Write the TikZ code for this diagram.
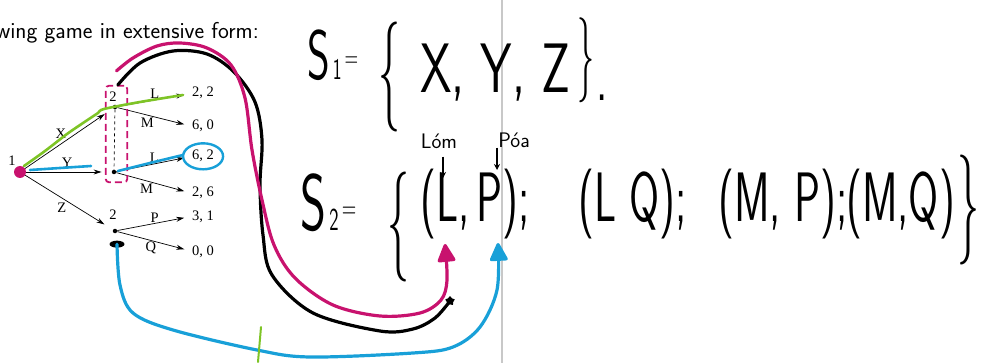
\documentclass[tikz,border=0pt]{standalone}
\usepackage{fontspec}
\usepackage{xcolor}
\usetikzlibrary{arrows.meta,positioning,shapes.geometric,fit}

\newfontfamily\treefont{Liberation Serif}
\definecolor{penmag}{RGB}{200,18,110}
\definecolor{penblue}{RGB}{24,160,216}
\definecolor{pengreen}{RGB}{126,196,38}
\definecolor{pagerule}{RGB}{200,200,200}

\begin{document}
\begin{tikzpicture}[x=1pt, y=-1pt,
  dec/.style={circle, fill=black, inner sep=0pt, minimum size=4.5pt},
  act/.style={font=\treefont\fontsize{14.5}{16}\selectfont, inner sep=1pt},
  pay/.style={act, anchor=base west, inner sep=0pt},
  move/.style={-{Stealth[length=8pt,width=5pt]}, line width=0.7pt},
  hand/.style={font=\fontsize{70}{70}\selectfont\sffamily, xscale=#1, transform shape, inner sep=0pt},
  hand/.default=0.62,
  handbrace/.style={font=\fontsize{110}{110}\selectfont\sffamily, xscale=0.4, transform shape, inner sep=0pt},
  note/.style={font=\fontsize{21}{21}\selectfont\sffamily, inner sep=0pt},
  pen/.style={line width=3.2pt, line cap=round, line join=round},
  penhead/.style={-{Triangle[length=20pt, width=19pt, round]}},
]
\useasboundingbox (0,0) rectangle (981,363);

% edge of the slide
\draw[pagerule, line width=1.3pt] (502,0) -- (502,363);

\node[anchor=base east, font=\fontsize{23}{26}\selectfont\sffamily, inner sep=0pt] (intro) at (259,39) {wing game in extensive form:};

% game tree
\node[dec] (root) at (20,172) {};
\node[act] (rootlbl) at (12,161) {1};
\node[dec] (tA) at (115,107) {};
\node[act] (tAlbl) at (113,97) {2};
\node[dec] (tB) at (114,172) {};
\node[dec] (tC) at (115,231) {};
\node[act] (tClbl) at (113,215) {2};

\node[pay] (uAL) at (192,97) {2, 2};
\node[pay] (uAM) at (192,130) {6, 0};
\node[pay] (uBL) at (192,160) {6, 2};
\node[pay] (uBM) at (192,197) {2, 6};
\node[pay] (uCP) at (192,220) {3, 1};
\node[pay] (uCQ) at (192,255) {0, 0};

\draw[move, shorten >=10pt] (root) -- node[act, above left] {X} (tA);
\draw[move, shorten >=10pt] (root) -- node[act, above=3pt] {Y} (tB);
\draw[move, shorten >=10pt] (root) -- node[act, below left] {Z} (tC);
\draw[move, shorten >=8pt] (tA) -- node[act, above] {L} (uAL.west);
\draw[move, shorten >=8pt] (tA) -- node[act, pos=0.4, below=2pt] {M} (uAM.west);
\draw[move, shorten >=8pt] (tB) -- node[act, above] {L} (uBL.west);
\draw[move, shorten >=8pt] (tB) -- node[act, pos=0.4, below=2pt] {M} (uBM.west);
\draw[move, shorten >=8pt] (tC) -- node[act, above] {P} (uCP.west);
\draw[move, shorten >=8pt] (tC) -- node[act, pos=0.45, below] {Q} (uCQ.west);
\draw[dashed, line width=0.7pt] (tA) -- (tB);

% pen marks on the tree
\node[draw=penmag, dashed, dash pattern=on 7pt off 4pt, line width=1.8pt, rounded corners=3pt,
  fit=(tA)(tB), inner xsep=7.75pt, inner ysep=13.25pt, xshift=2pt, yshift=5.5pt] (infobox) {};
\fill[penmag] (root) circle (6pt);
\draw[pen, pengreen, line width=2.6pt] plot[smooth, tension=0.5] coordinates {(24,166) (45,151) (67,134) (86,121) (98,113) (104,109) (140,102) (183,95)};
\draw[pen, penblue, line width=2.6pt] plot[smooth] coordinates {(30,170) (60,168) (91,166)};
\draw[pen, penblue, line width=2.6pt] plot[smooth] coordinates {(118,171) (150,163) (183,155)};
\node[draw=penblue, ellipse, line width=2.4pt, minimum width=40pt, minimum height=26pt, inner sep=0pt] (ring) at (uBL.center) {};
\node[ellipse, fill=black, minimum width=15pt, minimum height=7pt, inner sep=0pt, below=7pt of tC, xshift=2pt] (blob) {};

% handwritten sets
\node[hand, anchor=base west] (s1lhs) at (307,80) {S{\fontsize{30}{30}\selectfont\,1\,\raisebox{12pt}{=}}};
\node[handbrace] (s1open) at (389,77) {\{};
\node[hand=0.72, anchor=base west] (s1elts) at (420,93) {X, Y, Z};
\node[handbrace, font=\fontsize{85}{85}\selectfont\sffamily] (s1close) at (586,60) {\}};
\node[hand] (s1dot) at (602,98) {.};

\node[hand, anchor=base west, font=\fontsize{80}{80}\selectfont\sffamily] (s2lhs) at (300,230) {S{\fontsize{32}{32}\selectfont\,2\,\raisebox{12pt}{=}}};
\node[handbrace] (s2open) at (398,227) {\{};
\node[hand, anchor=base west] (s2a) at (420,222) {(L,\,P);};
\node[hand, anchor=base west] (s2b) at (578,222) {(L Q);};
\node[hand, anchor=base west] (s2c) at (718,222) {(M, P);};
\node[hand, anchor=base west] (s2d) at (846,222) {(M,Q)};
\node[handbrace] (s2close) at (968,210) {\}};

\node[note] (lom) at (439,141) {Lóm};
\node[note] (poa) at (514,140) {Póa};
\coordinate (Ltop) at (443,178);
\coordinate (Ptop) at (497,170);
\draw[line width=1.8pt, shorten <=8pt, -{Stealth[length=6pt,width=6pt]}] (lom.south -| Ltop) -- (Ltop);
\draw[line width=1.8pt, -{Stealth[length=6pt,width=6pt]}] (poa.south -| Ptop) -- (Ptop);

% long pen arrows
\coordinate (Ltip) at (445,244);
\coordinate (Ptip) at (498,243);
\node[star, star points=5, fill=black, minimum size=10pt, inner sep=0pt] (pin) at (450,301) {};
\draw[pen, black] plot[smooth, tension=0.55] coordinates {([yshift=6pt]tAlbl.north east) (140,63) (173,51) (207,54) (234,72) (255,102) (262,140) (260,185) (263,235) (272,275) (313,313) (380,331) (413,329) (435,318) (pin)};
\draw[pen, penmag, penhead] plot[smooth, tension=0.55] coordinates {([yshift=14pt]infobox.north) (133,58) (157,46) (180,43) (207,48) (231,65) (245,98) (252,150) (262,200) (274,245) (295,278) (333,305) (380,316) (420,313) (441,300) (447,280) (Ltip)};
\draw[pen, penblue, penhead] plot[smooth, tension=0.55] coordinates {(blob) (120,285) (133,313) (173,330) (257,350) (310,357) (413,353) (453,347) (480,327) (497,290) (Ptip)};
\draw[pen, pengreen, line width=2pt] (261,327) -- (258,362);

\end{tikzpicture}
\end{document}
